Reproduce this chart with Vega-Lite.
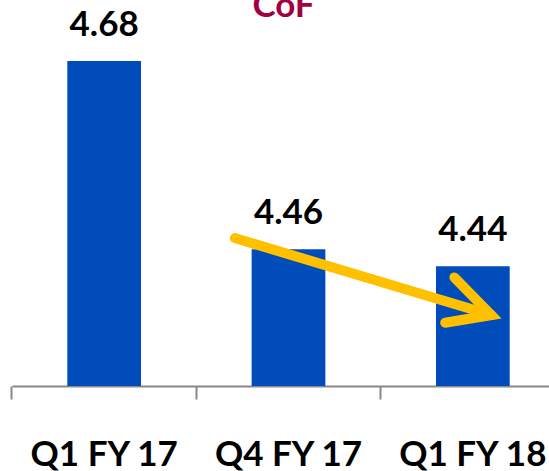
{
  "$schema": "https://vega.github.io/schema/vega-lite/v6.json",
  "autosize": "none",
  "width": 553,
  "height": 342,
  "padding": {"left": 12, "top": 44, "right": 0, "bottom": 85},
  "background": "white",
  "config": {"view": {"stroke": null}},
  "title": {"text": "CoF", "color": "#A3003F", "fontSize": 35, "font": "Lato", "fontWeight": "bold", "anchor": "middle", "frame": "group", "baseline": "alphabetic", "offset": 0, "dy": 44, "dx": -5},
  "layer": [
    {
      "data": {"values": [
        {"period": "Q1 FY 17", "value": 4.68},
        {"period": "Q4 FY 17", "value": 4.46},
        {"period": "Q1 FY 18", "value": 4.44}
      ]},
      "encoding": {
        "x": {"field": "period", "type": "nominal", "sort": null,
          "scale": {"paddingInner": 0.6, "paddingOuter": 0.3},
          "axis": {"title": null, "labelAngle": 0, "labelFont": "Lato", "labelFontWeight": "bold", "labelFontSize": 35, "labelColor": "black", "labelPadding": 38, "domainColor": "#888888", "domainWidth": 2, "ticks": true, "tickColor": "#888888", "tickWidth": 2, "tickSize": 13, "bandPosition": -0.75}},
        "y": {"field": "value", "type": "quantitative", "scale": {"domain": [4.3, 4.7], "zero": false}, "axis": null}
      },
      "layer": [
        {"mark": {"type": "bar", "color": "#004CBB"}, "encoding": {"y2": {"datum": 4.3}}},
        {"mark": {"type": "text", "dy": -25, "baseline": "alphabetic", "font": "Lato", "fontWeight": "bold", "fontSize": 35, "color": "black"}, "encoding": {"text": {"field": "value", "type": "quantitative", "format": ".2f"}}}
      ]
    },
    {
      "data": {"values": [
        {"part": "shaft", "o": 0, "px": 1.209, "py": 4.473},
        {"part": "shaft", "o": 1, "px": 2.6, "py": 4.383},
        {"part": "head", "o": 0, "px": 2.4, "py": 4.427},
        {"part": "head", "o": 1, "px": 2.6, "py": 4.383},
        {"part": "head", "o": 2, "px": 2.35, "py": 4.374}
      ]},
      "mark": {"type": "line", "color": "#FFC000", "strokeWidth": 10, "strokeCap": "round", "strokeJoin": "miter"},
      "encoding": {
        "x": {"field": "px", "type": "quantitative", "scale": {"domain": [0, 3]}, "axis": null},
        "y": {"field": "py", "type": "quantitative", "scale": {"domain": [4.3, 4.7], "zero": false}, "axis": null},
        "detail": {"field": "part"},
        "order": {"field": "o"}
      }
    }
  ],
  "resolve": {"scale": {"x": "independent"}}
}
